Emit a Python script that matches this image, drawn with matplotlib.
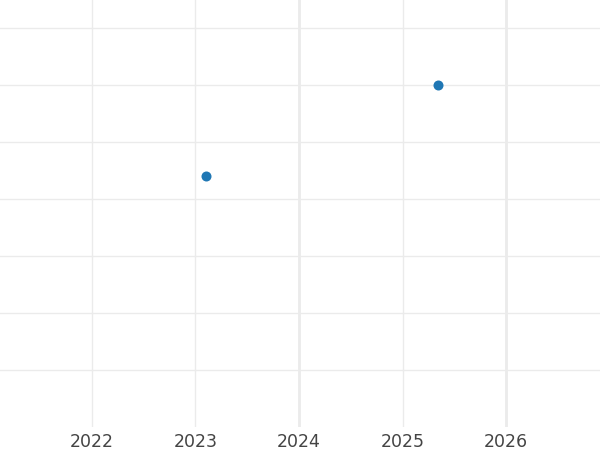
import matplotlib
matplotlib.use("Agg")
import matplotlib.pyplot as plt
import pandas as pd

# data
dates = ["2023-02-06", "2025-05-05"]
values = [4.4, 6.0]
years = [2022, 2023, 2024, 2025, 2026]
thick_years = [2024, 2026]
x_range = ["2021-02-10", "2026-11-29"]
y_range = [0, 7.49]

fig = plt.figure(figsize=(6, 4.5), dpi=100)
ax = fig.add_axes([0, 23 / 450, 1, 427 / 450])

x = pd.to_datetime(dates)
ax.scatter(x, values, s=52, color="#1f77b4", zorder=3, linewidths=0)

ax.set_xlim(pd.to_datetime(x_range[0]), pd.to_datetime(x_range[1]))
ax.set_ylim(*y_range)

ticks = [pd.Timestamp(f"{y}-01-01") for y in years]
ax.set_xticks(ticks)
ax.set_xticklabels([str(y) for y in years])
ax.set_yticks(range(1, 8))
ax.set_yticklabels([])

ax.grid(True, color="#ebebeb", linewidth=1)
for y in thick_years:
    ax.axvline(pd.Timestamp(f"{y}-01-01"), color="#ebebeb", linewidth=2, zorder=1)
ax.set_axisbelow(True)

ax.tick_params(axis="both", length=0, labelsize=12.5, labelcolor="#444444", pad=4)
for s in ax.spines.values():
    s.set_visible(False)

fig.savefig("out.png", dpi=100)
